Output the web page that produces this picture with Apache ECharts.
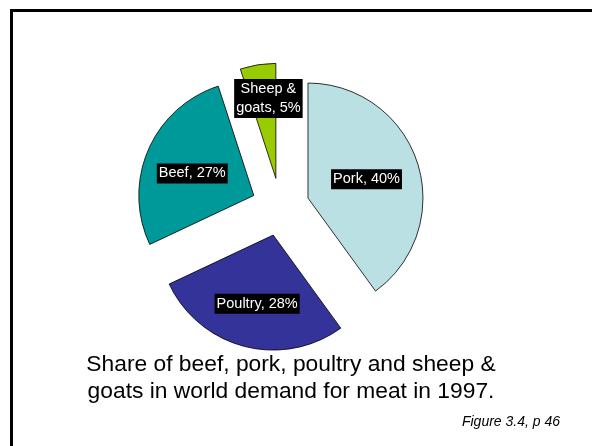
<!DOCTYPE html>
<html>
<head>
<meta charset="utf-8">
<script src="https://cdn.jsdelivr.net/npm/echarts@6/dist/echarts.min.js"></script>
<style>
html,body{margin:0;padding:0;background:#fff;}
#chart{width:592px;height:446px;}
</style>
</head>
<body>
<div id="chart"></div>
<script>
// ---- data ----
const categories = ['Pork', 'Poultry', 'Beef', 'Sheep & goats'];
const shares = [40, 28, 27, 5];
const sliceColors = ['#BBE0E3', '#333399', '#009999', '#99CC00'];
const captionLines = ['Share of beef, pork, poultry and sheep &', 'goats in world demand for meat in 1997.'];
const sourceNote = 'Figure 3.4, p 46';
// label nudges (style), per slice
const labelShiftX = [1, -1, -6, 2];
const labelShiftY = [0, 10, 2, -20];

const chart = echarts.init(document.getElementById('chart'), null, {renderer: 'canvas'});

const pieData = categories.map((name, i) => ({
  name: name,
  value: shares[i],
  selected: true,
  itemStyle: {color: sliceColors[i]}
}));

chart.setOption({
  animation: false,
  backgroundColor: '#ffffff',
  series: [{
    type: 'pie',
    center: [280.4, 207],
    radius: 115,
    startAngle: 90,
    clockwise: true,
    selectedMode: 'multiple',
    selectedOffset: 29,
    avoidLabelOverlap: false,
    data: pieData,
    itemStyle: {borderColor: '#000', borderWidth: 0.8},
    label: {
      show: true,
      position: 'inside',
      formatter: p => p.name.replace(' & ', ' &\n') + ', ' + p.value + '%',
      color: '#ffffff',
      backgroundColor: '#000000',
      fontFamily: 'Liberation Sans, Arial, sans-serif',
      fontSize: 14.5,
      lineHeight: 19,
      padding: [1, 2, 0, 2],
      align: 'center'
    },
    labelLine: {show: false},
    labelLayout: function (params) {
      const i = params.dataIndex;
      return {dx: labelShiftX[i], dy: labelShiftY[i]};
    },
    emphasis: {disabled: true, scale: false},
    select: {itemStyle: {borderColor: '#000', borderWidth: 0.8}},
    silent: true
  }],
  graphic: [
    {
      type: 'rect',
      shape: {x: 11.5, y: 10.5, width: 700, height: 600},
      style: {fill: null, stroke: '#000', lineWidth: 3},
      silent: true
    },
    {
      type: 'text',
      x: 291,
      y: 351,
      style: {
        text: captionLines.join('\n'),
        textAlign: 'center',
        fill: '#000',
        font: '22.8px "Liberation Sans", Arial, sans-serif',
        lineHeight: 27
      },
      silent: true
    },
    {
      type: 'text',
      x: 560,
      y: 415,
      style: {
        text: sourceNote,
        textAlign: 'right',
        fill: '#000',
        font: 'italic 14px "Liberation Sans", Arial, sans-serif'
      },
      silent: true
    }
  ]
});
</script>
</body>
</html>
